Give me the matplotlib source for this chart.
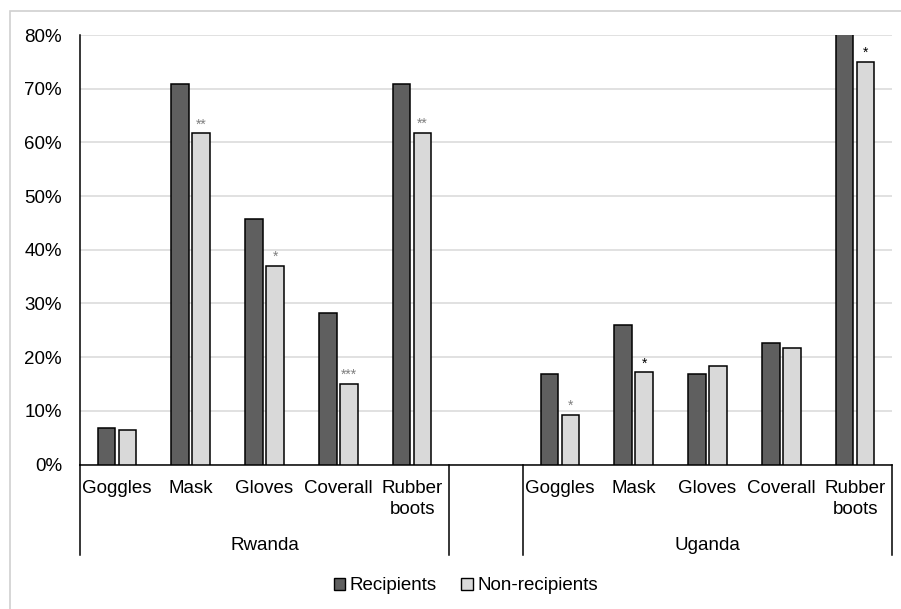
import matplotlib
matplotlib.use("Agg")
import matplotlib.pyplot as plt
import matplotlib.transforms as mtransforms
from matplotlib.patches import Rectangle, Patch
import numpy as np

plt.rcParams['font.family'] = ['Liberation Sans', 'DejaVu Sans']

# PPE use by item, share of respondents (%)
items = ["Goggles", "Mask", "Gloves", "Coverall", "Rubber\nboots"]
countries = ["Rwanda", "Uganda"]
recip_rw = [6.8, 70.8, 45.7, 28.2, 70.9]
nonrec_rw = [6.5, 61.7, 37.0, 15.0, 61.8]
recip_ug = [16.8, 26.0, 16.8, 22.7, 81.0]
nonrec_ug = [9.3, 17.2, 18.3, 21.7, 75.0]
stars_rw = ["", "**", "*", "***", "**"]
stars_ug = ["*", "*", "", "", "*"]

dark = "#5f5f5f"
light = "#d9d9d9"
fs = 13.5

fig = plt.figure(figsize=(9.01, 6.09), dpi=100)
ax = fig.add_axes([80 / 901, 1 - 464.5 / 609, 812 / 901, 429.5 / 609])

# outer chart frame (left and top edges only show)
fig.patches.append(Rectangle((10 / 901, -0.1), 1.2, 1 - 11 / 609 + 0.1,
                             transform=fig.transFigure, fill=False,
                             edgecolor="#d0d0d0", linewidth=1.2, zorder=0))

# categories: 5 items, an empty slot, 5 items
recip = recip_rw + [np.nan] + recip_ug
nonrec = nonrec_rw + [np.nan] + nonrec_ug
stars = stars_rw + [""] + stars_ug
labels = items + [""] + items
x = np.arange(len(labels))

w = 0.237
off = 0.142
ax.bar(x - off, recip, w, color=dark, edgecolor="black", linewidth=1.1,
       label="Recipients", zorder=3)
ax.bar(x + off, nonrec, w, color=light, edgecolor="black", linewidth=1.1,
       label="Non-recipients", zorder=3)

star_colors = ["#7f7f7f"] * 7 + ["black", "#7f7f7f", "#7f7f7f", "black"]
for i, s in enumerate(stars):
    if s:
        ax.annotate(s, (x[i] + off, nonrec[i]), xytext=(0, 3.5),
                    textcoords="offset points", ha="center", va="baseline",
                    fontsize=10, color=star_colors[i])

ax.set_xlim(-0.5, len(labels) - 0.5)
ax.set_ylim(0, 80)
ax.set_yticks(np.arange(0, 81, 10))
ax.set_yticklabels([f"{v}%" for v in range(0, 81, 10)], fontsize=fs)
ax.tick_params(axis="y", length=0, pad=13)
ax.yaxis.grid(True, color="#d9d9d9", linewidth=1.1, zorder=0)
ax.set_axisbelow(True)

ax.set_xticks(x)
ax.set_xticklabels(labels, fontsize=fs, linespacing=1.3)
ax.tick_params(axis="x", length=0, pad=11)

for sp in ["top", "right"]:
    ax.spines[sp].set_visible(False)
ax.spines["left"].set_linewidth(1.1)
ax.spines["bottom"].set_linewidth(1.1)

# multi-level category axis dividers and group names
trans = mtransforms.blended_transform_factory(ax.transData, ax.transAxes)
depth = -90 / 429.5
for xb in [-0.5, 4.5, 5.5, 10.5]:
    ax.plot([xb, xb], [0, depth], color="black", linewidth=1.1,
            transform=trans, clip_on=False)
ax.text(2, -81.5 / 429.5, countries[0], transform=trans, ha="center",
        va="center", fontsize=fs)
ax.text(8, -81.5 / 429.5, countries[1], transform=trans, ha="center",
        va="center", fontsize=fs)

handles = [Patch(facecolor=dark, edgecolor="black", linewidth=1.0),
           Patch(facecolor=light, edgecolor="black", linewidth=1.0)]
fig.legend(handles, ["Recipients", "Non-recipients"], loc="center",
           bbox_to_anchor=(466 / 901, 1 - 586 / 609), ncol=2, frameon=False,
           fontsize=fs, handlelength=0.6, handleheight=0.6,
           handletextpad=0.25, columnspacing=1.3)

fig.savefig("out.png", dpi=100)
